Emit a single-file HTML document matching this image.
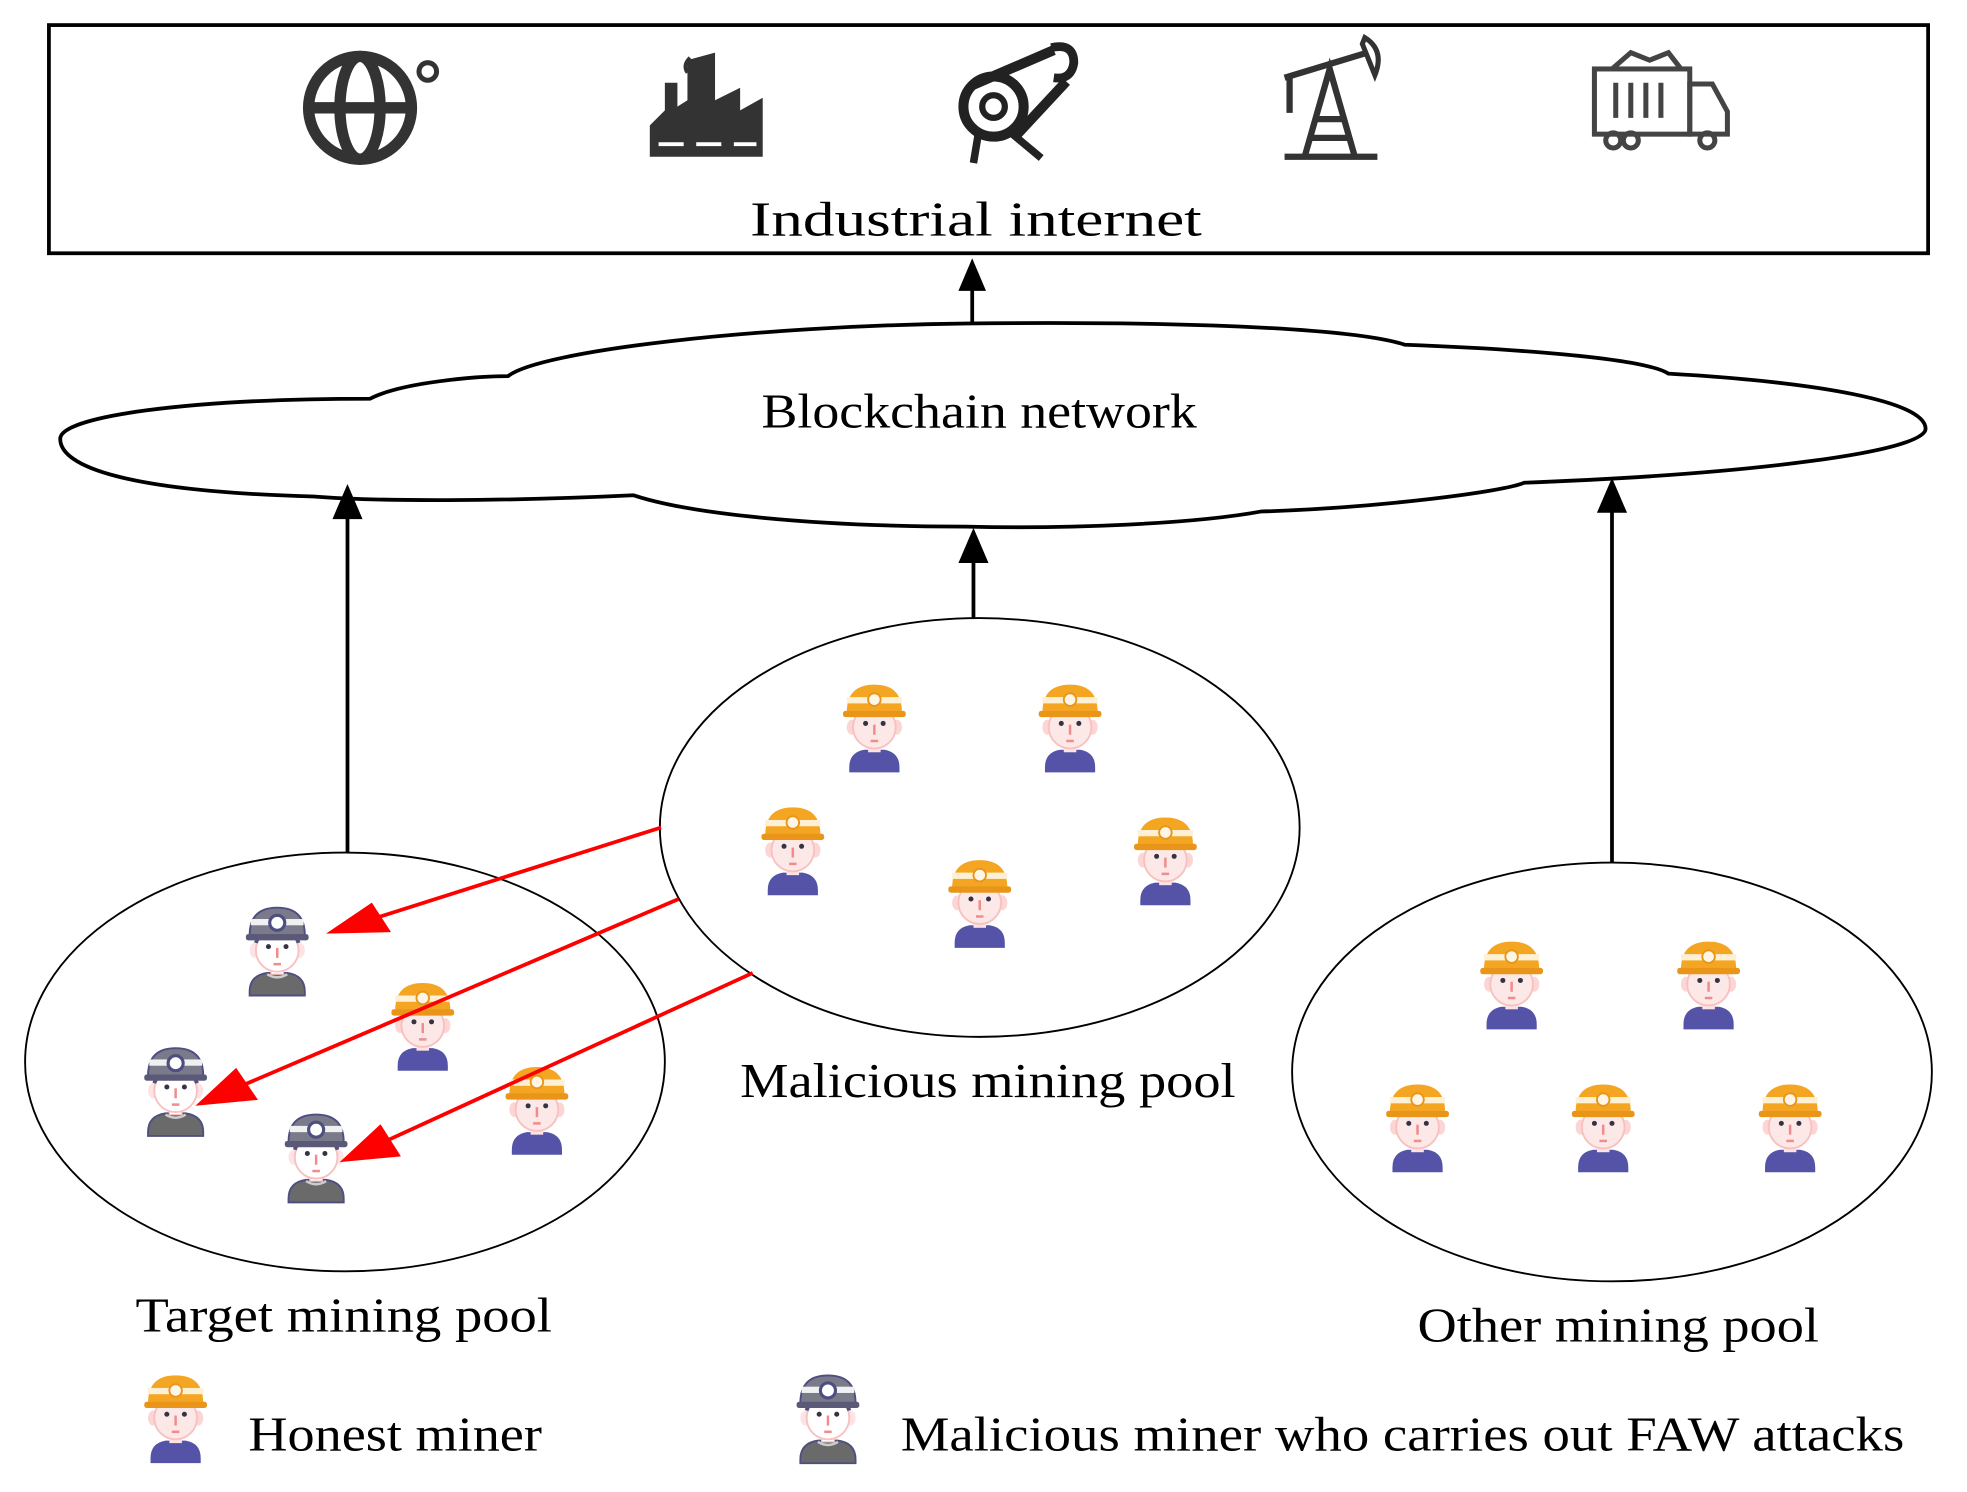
<!DOCTYPE html>
<html><head><meta charset="utf-8"><style>html,body{margin:0;padding:0;background:#fff}svg{display:block}</style></head><body>
<svg width="1967" height="1492" viewBox="0 0 1568 1190" preserveAspectRatio="none" xmlns="http://www.w3.org/2000/svg" font-family="Liberation Serif, serif">
<defs>
<g id="hon">
<path d="M-20,30 Q-20,18 -8,16 L8,16 Q20,18 20,30 L20,34 L-20,34Z" fill="#5553a8"/>
<rect x="-5" y="10" width="10" height="8" fill="#fde3e3"/>
<ellipse cx="-18" cy="-2" rx="4" ry="6" fill="#fcd5d5"/><ellipse cx="18" cy="-2" rx="4" ry="6" fill="#fcd5d5"/>
<ellipse cx="0" cy="-2" rx="17" ry="17" fill="#fde8e8" stroke="#f9c0c0" stroke-width="1.5"/>
<circle cx="-7" cy="-5" r="2" fill="#334"/><circle cx="7" cy="-5" r="2" fill="#334"/>
<path d="M0,-4 L0,4" stroke="#f08c8c" stroke-width="2"/><path d="M-3,9 L3,9" stroke="#f08c8c" stroke-width="2"/>
<path d="M-22,-14 Q-22,-36 0,-36 Q22,-36 22,-14 Z" fill="#f4a623"/>
<rect x="-22" y="-26" width="44" height="5" fill="#fdf0d5"/>
<rect x="-25" y="-15" width="50" height="5" rx="2" fill="#e8951a"/>
<circle cx="0" cy="-24" r="5" fill="#fdf6e6" stroke="#e8951a" stroke-width="1.5"/>
</g>
<g id="mal">
<path d="M-22,31 Q-22,18 -8,16 L8,16 Q22,18 22,31 L22,34 L-22,34Z" fill="#6a6a6a" stroke="#4e4e80" stroke-width="1.5"/>
<path d="M-8,17 Q0,22 8,17" stroke="#ccc" stroke-width="2" fill="none"/>
<rect x="-5" y="10" width="10" height="7" fill="#fff" stroke="#f9c0c0"/>
<ellipse cx="-18" cy="-2" rx="4" ry="6" fill="#fde3e3"/><ellipse cx="18" cy="-2" rx="4" ry="6" fill="#fde3e3"/>
<ellipse cx="0" cy="-2" rx="17" ry="17" fill="#fff" stroke="#f9c0c0" stroke-width="1.5"/>
<path d="M-17,-8 Q-15,-15 -10,-14 M17,-8 Q15,-15 10,-14" stroke="#4e4e80" stroke-width="3" fill="none"/>
<circle cx="-7" cy="-5" r="2" fill="#334"/><circle cx="7" cy="-5" r="2" fill="#334"/>
<path d="M0,-4 L0,4" stroke="#f08c8c" stroke-width="2"/><path d="M-3,9 L3,9" stroke="#f08c8c" stroke-width="2"/>
<path d="M-22,-14 Q-22,-36 0,-36 Q22,-36 22,-14 Z" fill="#7a7a8a" stroke="#4e4e80" stroke-width="1.5"/>
<rect x="-21" y="-27" width="42" height="5" fill="#f0f0f0"/>
<rect x="-25" y="-15" width="50" height="5" rx="2" fill="#5a5a78"/>
<circle cx="0" cy="-24" r="6" fill="#fff" stroke="#4e4e80" stroke-width="2.5"/>
</g>
</defs>

<rect x="39" y="20" width="1498" height="182" fill="#fff" stroke="#000" stroke-width="3"/>
<g fill="none" stroke="#333" stroke-width="9"><circle cx="287" cy="86" r="41"/><ellipse cx="287" cy="86" rx="16" ry="41"/><line x1="246" y1="86" x2="328" y2="86"/></g>
<circle cx="341" cy="57" r="7" fill="none" stroke="#333" stroke-width="4"/>
<path d="M518,125 L518,100 L530,88 L530,66 L540,66 L540,85 L548,80 L548,48 L570,42 L570,80 L590,70 L590,88 L608,78 L608,125 Z" fill="#333"/>
<path d="M525,115 h20 M555,115 h20 M585,115 h18" stroke="#fff" stroke-width="3"/>
<path d="M548,58 q-4,-6 2,-12" stroke="#333" stroke-width="3" fill="none"/>
<circle cx="792" cy="85" r="24" fill="none" stroke="#222" stroke-width="8"/><circle cx="792" cy="85" r="9" fill="none" stroke="#222" stroke-width="5"/>
<path d="M775,68 L840,40 M810,108 L850,65" stroke="#222" stroke-width="8"/>
<path d="M838,38 q18,-4 18,12 q-2,14 -16,12" fill="none" stroke="#222" stroke-width="7"/>
<path d="M780,106 L776,130 M806,106 L830,126" stroke="#222" stroke-width="6"/>
<g stroke="#333" stroke-width="5" fill="none"><path d="M1024,125 h74 M1040,125 L1060,55 L1080,125 M1050,95 h20 M1045,110 h30"/><path d="M1024,62 L1090,42"/><path d="M1028,60 v30"/></g>
<path d="M1088,30 q16,10 8,30 l-10,-25z" fill="none" stroke="#333" stroke-width="4"/>
<g stroke="#444" stroke-width="4" fill="none"><rect x="1271" y="55" width="76" height="52"/><path d="M1347,67 h18 l12,22 v18 h-30z"/><path d="M1288,66 v28 M1300,66 v28 M1312,66 v28 M1324,66 v28"/><circle cx="1286" cy="112" r="6"/><circle cx="1300" cy="112" r="6"/><circle cx="1361" cy="112" r="6"/><path d="M1285,55 l15,-13 l15,6 l15,-6 l10,13"/></g>
<text x="598" y="188" font-size="39" textLength="360" lengthAdjust="spacingAndGlyphs">Industrial  internet</text>

<g stroke="#000" stroke-width="3">
<line x1="775" y1="258" x2="775" y2="225"/>
<line x1="277" y1="680" x2="277" y2="405"/>
<line x1="776" y1="493" x2="776" y2="440"/>
<line x1="1285" y1="688" x2="1285" y2="400"/>
</g>
<g fill="#000">
<path d="M775,206 L764,232 L786,232 Z"/>
</g>

<path d="M48,350 C48,332 150,318 295,318 C320,305 380,300 405,300 C430,280 600,260 770,258 C950,256 1080,262 1120,275 C1200,278 1310,285 1330,298 C1450,305 1535,320 1535,342 C1535,360 1400,378 1215,385 C1200,392 1100,405 1005,408 C950,418 850,422 770,420 C650,420 550,410 505,395 C400,400 300,400 250,396 C100,392 48,372 48,350 Z" fill="#fff" stroke="#000" stroke-width="3"/>
<text x="607" y="341" font-size="39" textLength="347" lengthAdjust="spacingAndGlyphs">Blockchain network</text>
<g fill="#000">
<path d="M277,386 L265,414 L289,414 Z"/>
<path d="M776,421 L764,449 L788,449 Z"/>
<path d="M1285,381 L1273,409 L1297,409 Z"/>
</g>

<ellipse cx="275" cy="847" rx="255" ry="167" fill="none" stroke="#000" stroke-width="1.5"/>
<ellipse cx="781" cy="660" rx="255" ry="167" fill="none" stroke="#000" stroke-width="1.5"/>
<ellipse cx="1285" cy="855" rx="255" ry="167" fill="none" stroke="#000" stroke-width="1.5"/>

<use href="#hon" x="697" y="582"/><use href="#hon" x="853" y="582"/><use href="#hon" x="632" y="680"/><use href="#hon" x="781" y="722"/><use href="#hon" x="929" y="688"/>
<use href="#mal" x="221" y="760"/><use href="#mal" x="140" y="872"/><use href="#mal" x="252" y="925"/>
<use href="#hon" x="337" y="820"/><use href="#hon" x="428" y="887"/>
<use href="#hon" x="1205" y="787"/><use href="#hon" x="1362" y="787"/><use href="#hon" x="1130" y="901"/><use href="#hon" x="1278" y="901"/><use href="#hon" x="1427" y="901"/>

<g stroke="#f00" stroke-width="3" fill="#f00">
<line x1="527" y1="660" x2="300" y2="732"/><path d="M265,743 L296,722 L309,742 Z"/>
<line x1="541" y1="717" x2="195" y2="865"/><path d="M160,880 L188,854 L203,876 Z"/>
<line x1="600" y1="776" x2="310" y2="909"/><path d="M275,925 L303,899 L317,921 Z"/>
</g>

<text x="590" y="875" font-size="39" textLength="395" lengthAdjust="spacingAndGlyphs">Malicious mining pool</text>
<text x="108" y="1062" font-size="39" textLength="332" lengthAdjust="spacingAndGlyphs">Target mining pool</text>
<text x="1130" y="1070" font-size="39" textLength="320" lengthAdjust="spacingAndGlyphs">Other mining pool</text>

<use href="#hon" x="140" y="1133"/>
<text x="198" y="1157" font-size="39" textLength="234" lengthAdjust="spacingAndGlyphs">Honest miner</text>
<use href="#mal" x="660" y="1133"/>
<text x="718" y="1157" font-size="39" textLength="800" lengthAdjust="spacingAndGlyphs">Malicious miner who carries out FAW attacks</text>
</svg>
</body></html>
